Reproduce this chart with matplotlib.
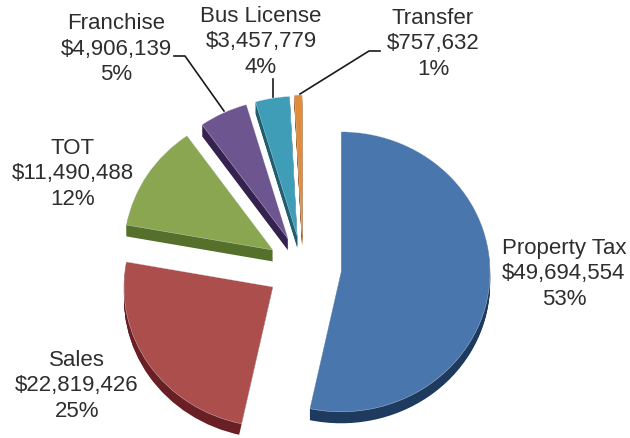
import matplotlib
matplotlib.use('Agg')
import matplotlib.pyplot as plt
from matplotlib.patches import Polygon
import numpy as np

# values
categories = ['Property Tax', 'Sales', 'TOT', 'Franchise', 'Bus License', 'Transfer']
amounts = [49694554, 22819426, 11490488, 4906139, 3457779, 757632]
amount_labels = ['$49,694,554', '$22,819,426', '$11,490,488', '$4,906,139', '$3,457,779', '$757,632']
pct_labels = ['53%', '25%', '12%', '5%', '4%', '1%']

top_colors = ['#4a76ae', '#ab4e4c', '#8ba650', '#6d5590', '#3f9db8', '#e08b3c']
side_colors = ['#1f3a5f', '#6a1f25', '#55702a', '#35224f', '#1f5f70', '#a05a1a']
explode = [0.257, 0.243, 0.239, 0.23, 0.23, 0.236]

W, H = 630, 438
plt.rcParams['font.family'] = ['Liberation Sans', 'DejaVu Sans']

fig = plt.figure(figsize=(W / 100, H / 100), dpi=100)
ax = fig.add_axes([0, 0, 1, 1])

# fake 3D: stack darker copies of the pie below the top one
depth = 0.082
for shift in np.linspace(depth, 0.005, 14):
    ax.pie(amounts, explode=explode, colors=side_colors, startangle=90, counterclock=False,
           center=(0, -shift), frame=True)
top = ax.pie(amounts, explode=explode, colors=top_colors, startangle=90, counterclock=False,
             center=(0, 0), frame=True,
             wedgeprops={'edgecolor': '#dfe6ee', 'linewidth': 0.25, 'zorder': 2})[0]

# red slice must not show a dark strip along its right edge: cover it with a thin white sliver
apex = np.array(top[1].center)
ang = np.radians(top[1].theta2)
edge = np.array([np.cos(ang), np.sin(ang)])
p2 = apex + 1.2 * edge
ax.add_patch(Polygon([apex, p2, p2 + (0.04, 0), apex + (0.04, 0)], fc='white', ec='none', zorder=1.5))

# squashed pie: 149 px wide radius, 140 px high radius, centre at (303, 268)
ax.set_aspect('auto')
ax.set_xlim(-303 / 149, (W - 303) / 149)
ax.set_ylim((268 - H) / 140, 268 / 140)
ax.axis('off')

# overlay in pixel coords for the labels and leader lines
ov = fig.add_axes([0, 0, 1, 1], facecolor='none')
ov.set_xlim(0, W)
ov.set_ylim(H, 0)
ov.axis('off')

label_xy = [(564, 274), (77, 386), (73, 174), (116, 49), (261, 42), (433, 44)]
for name, amt, pct, (x, y) in zip(categories, amount_labels, pct_labels, label_xy):
    ov.text(x, y, name + '\n' + amt + '\n' + pct, ha='center', va='center', fontsize=16,
            color='#2e2e2e', linespacing=1.27)

ov.plot([174, 185, 224], [56, 56, 111], color='#1a1a1a', lw=1.2)
ov.plot([273, 273], [79, 97], color='#1a1a1a', lw=1.2)
ov.plot([380, 369, 300], [51, 51, 94], color='#1a1a1a', lw=1.2)

fig.savefig('out.png', dpi=100)
